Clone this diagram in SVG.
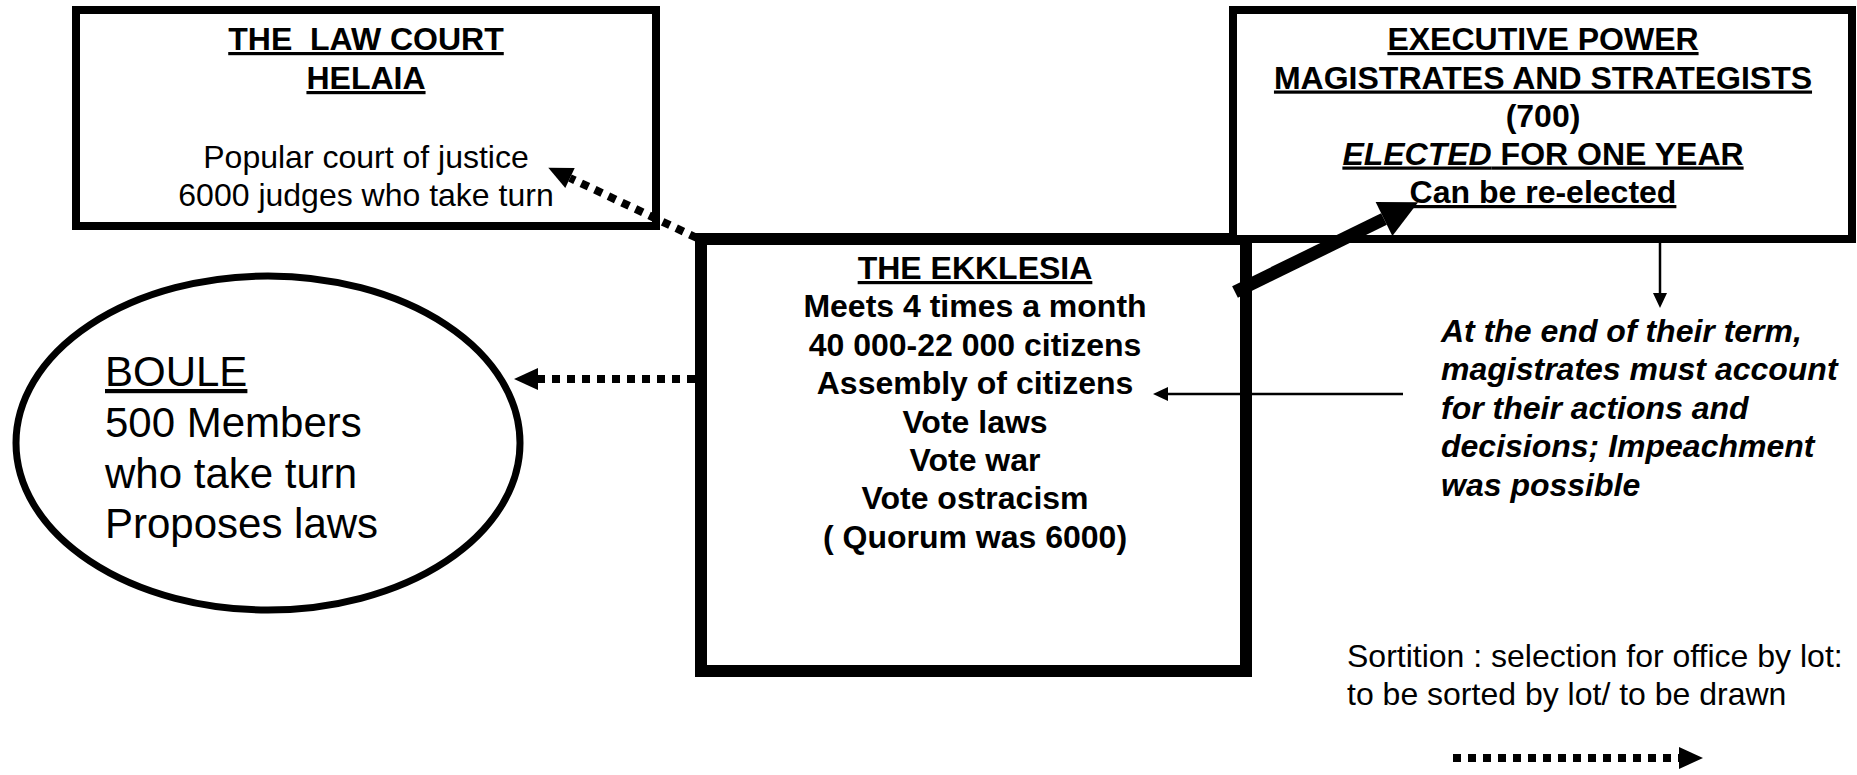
<svg xmlns="http://www.w3.org/2000/svg" width="1857" height="775" viewBox="0 0 1857 775">
<style>
.box{fill:#fff;stroke:#000}
text{font-family:"Liberation Sans",Arial,sans-serif;font-size:32px;fill:#000}
.c{text-anchor:middle}
.b{font-weight:bold}
.i{font-style:italic}
.u{text-decoration:underline}
.big{font-size:42px}
.dot{stroke:#000;stroke-width:8;stroke-dasharray:8 7;fill:none}
.thin{stroke:#000;stroke-width:2.5;fill:none}
.thick{stroke:#000;stroke-width:13;fill:none}
</style>
<defs>
<marker id="hd" markerUnits="userSpaceOnUse" markerWidth="24" markerHeight="22" refX="0" refY="11" orient="auto" overflow="visible"><path d="M0,0 L24,11 L0,22 z" fill="#000"/></marker>
<marker id="hk" markerUnits="userSpaceOnUse" markerWidth="38" markerHeight="38" refX="0" refY="19" orient="auto" overflow="visible"><path d="M0,0 L38,19 L0,38 z" fill="#000"/></marker>
<marker id="ht" markerUnits="userSpaceOnUse" markerWidth="15" markerHeight="14" refX="0" refY="7" orient="auto" overflow="visible"><path d="M0,0 L15,7 L0,14 z" fill="#000"/></marker>
</defs>
<rect width="1857" height="775" fill="#fff"/>

<g id="law-court">
<rect class="box" x="76" y="10" width="580" height="216" stroke-width="8"/>
<text class="c b u" x="366" y="50" xml:space="preserve">THE  LAW COURT</text>
<text class="c b u" x="366" y="89">HELAIA</text>
<text class="c" x="366" y="168">Popular court of justice</text>
<text class="c" x="366" y="206">6000 judges who take turn</text>
</g>

<g id="ekklesia">
<rect class="box" x="701" y="239" width="545" height="432" stroke-width="12"/>
<text class="c b u" x="975" y="279">THE EKKLESIA</text>
<text class="c b" x="975" y="317.4">Meets 4 times a month</text>
<text class="c b" x="975" y="355.8">40 000-22 000 citizens</text>
<text class="c b" x="975" y="394.2">Assembly of citizens</text>
<text class="c b" x="975" y="432.6">Vote laws</text>
<text class="c b" x="975" y="471">Vote war</text>
<text class="c b" x="975" y="509.4">Vote ostracism</text>
<text class="c b" x="975" y="547.8">( Quorum was 6000)</text>
</g>

<g id="executive">
<rect class="box" x="1233" y="10" width="619" height="229" stroke-width="8"/>
<text class="c b u" x="1543" y="50">EXECUTIVE POWER</text>
<text class="c b u" x="1543" y="88.5">MAGISTRATES AND STRATEGISTS</text>
<text class="c b" x="1543" y="126.5">(700)</text>
<text class="c b u" x="1543" y="164.5"><tspan class="i">ELECTED</tspan> FOR ONE YEAR</text>
<text class="c b u" x="1543" y="203">Can be re-elected</text>
</g>

<g id="boule">
<ellipse class="box" cx="268" cy="443" rx="252" ry="167" stroke-width="7"/>
<text class="big u" x="105" y="386">BOULE</text>
<text class="big" x="105" y="437">500 Members</text>
<text class="big" x="105" y="488">who take turn</text>
<text class="big" x="105" y="538">Proposes laws</text>
</g>

<g id="accountability">
<text class="b i" x="1441" y="341.5">At the end of their term,</text>
<text class="b i" x="1441" y="380">magistrates must account</text>
<text class="b i" x="1441" y="418.5">for their actions and</text>
<text class="b i" x="1441" y="457">decisions; Impeachment</text>
<text class="b i" x="1441" y="495.5">was possible</text>
</g>

<g id="connectors">
<line class="dot" x1="697" y1="238" x2="570" y2="178" marker-end="url(#hd)"/>
<line class="dot" x1="695" y1="379" x2="538" y2="379" marker-end="url(#hd)"/>
<line class="thick" x1="1235" y1="292" x2="1384" y2="219" marker-end="url(#hk)"/>
<line class="thin" x1="1660" y1="243" x2="1660" y2="293" marker-end="url(#ht)"/>
<line class="thin" x1="1403" y1="394" x2="1168" y2="394" marker-end="url(#ht)"/>
</g>

<g id="legend">
<text x="1347" y="667">Sortition : selection for office by lot:</text>
<text x="1347" y="705">to be sorted by lot/ to be drawn</text>
<line class="dot" x1="1453" y1="758" x2="1679" y2="758" marker-end="url(#hd)"/>
</g>
</svg>
